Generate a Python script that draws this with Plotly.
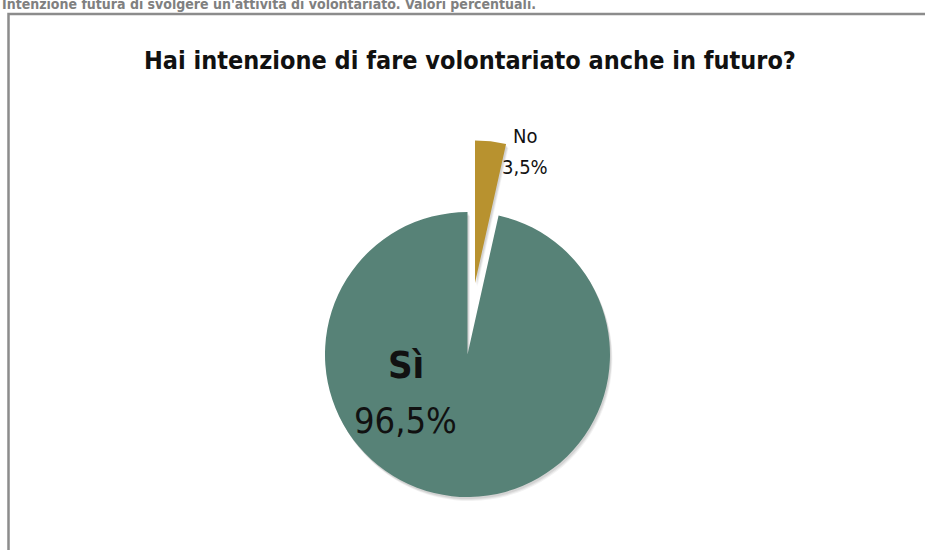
import plotly.graph_objects as go

# Data
labels = ["No", "Sì"]
values = [3.5, 96.5]
colors = ["#b8922f", "#578277"]
title_text = "Hai intenzione di fare volontariato anche in futuro?"
caption_text = "Intenzione futura di svolgere un'attività di volontariato. Valori percentuali."

W, H = 925, 550
FONT = "DejaVu Sans Condensed, Liberation Sans Narrow, Arial Narrow, sans-serif"

def fmt(v):
    return f"{v:.1f}".replace(".", ",") + "%"

def dom(cx, cy, r):
    # pixel centre (from top-left) and radius -> paper domain
    return dict(x=[(cx - r) / W, (cx + r) / W],
                y=[(H - cy - r) / H, (H - cy + r) / H])

R = 142.5
MAIN_C = (467.5, 354.5)
PULL_C = (475.0, 283.0)

fig = go.Figure()

# soft shadow layers (behind)
for off, a in [(4, 0.05), (3, 0.06), (2, 0.07)]:
    fig.add_trace(go.Pie(
        labels=labels, values=values, sort=False, direction="clockwise", rotation=0,
        marker=dict(colors=["rgba(0,0,0,0)", f"rgba(0,0,0,{a})"], line=dict(width=0)),
        textinfo="none", hoverinfo="skip", showlegend=False,
        domain=dom(MAIN_C[0] + off * 0.6, MAIN_C[1] + off, R),
    ))
    fig.add_trace(go.Pie(
        labels=labels, values=values, sort=False, direction="clockwise", rotation=0,
        marker=dict(colors=[f"rgba(0,0,0,{a})", "rgba(0,0,0,0)"], line=dict(width=0)),
        textinfo="none", hoverinfo="skip", showlegend=False,
        domain=dom(PULL_C[0] + off * 0.6, PULL_C[1] + off, R),
    ))

# Main slice (Sì) at its centre
fig.add_trace(go.Pie(
    labels=labels, values=values, sort=False, direction="clockwise", rotation=0,
    marker=dict(colors=["rgba(0,0,0,0)", colors[1]], line=dict(width=0)),
    textinfo="none", hoverinfo="label+percent", showlegend=False,
    domain=dom(*MAIN_C, R),
))
# Exploded slice (No), drawn at its displaced centre
fig.add_trace(go.Pie(
    labels=labels, values=values, sort=False, direction="clockwise", rotation=0,
    marker=dict(colors=[colors[0], "rgba(0,0,0,0)"], line=dict(width=0)),
    textinfo="none", hoverinfo="label+percent", showlegend=False,
    domain=dom(*PULL_C, R),
))

def px(x, y):
    return dict(x=x / W, y=1 - y / H, xref="paper", yref="paper")

annotations = [
    dict(text=f"<b>{caption_text}</b>", showarrow=False, xanchor="left", yanchor="middle",
         font=dict(family=FONT, size=14, color="#808080"), **px(0, 4)),
    dict(text=f"<b>{title_text}</b>", showarrow=False, xanchor="center", yanchor="middle",
         font=dict(family=FONT, size=25, color="#111111"), **px(470, 60)),
    dict(text=f"<b>{labels[1]}</b>", showarrow=False, xanchor="center", yanchor="middle",
         font=dict(family=FONT, size=38, color="#111111"), **px(406, 365)),
    dict(text=fmt(values[1]), showarrow=False, xanchor="center", yanchor="middle",
         font=dict(family=FONT, size=36, color="#111111"), **px(405, 420)),
    dict(text=labels[0], showarrow=False, xanchor="center", yanchor="middle",
         font=dict(family=FONT, size=20, color="#111111"), **px(525, 136)),
    dict(text=fmt(values[0]), showarrow=False, xanchor="center", yanchor="middle",
         font=dict(family=FONT, size=20, color="#111111"), **px(525, 167)),
]

fig.update_layout(
    width=W, height=H,
    margin=dict(l=0, r=0, t=0, b=0),
    paper_bgcolor="white", plot_bgcolor="white",
    annotations=annotations,
    shapes=[dict(type="rect", xref="paper", yref="paper",
                 x0=8.5 / W, x1=1.05, y0=-0.05, y1=1 - 14 / H,
                 line=dict(color="#8c8c8c", width=2.5), fillcolor="rgba(0,0,0,0)",
                 layer="below")],
)

fig.write_html("out.html", config={"displayModeBar": False},
               post_script="document.body.style.margin='0';document.body.style.overflow='hidden';")
